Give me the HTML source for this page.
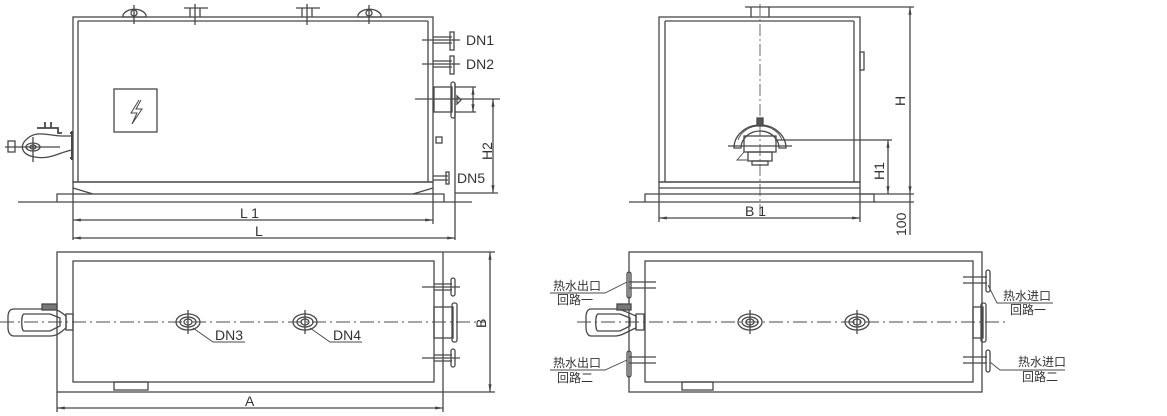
<!DOCTYPE html>
<html><head><meta charset="utf-8"><style>
html,body{margin:0;padding:0;background:#fff;}
svg{display:block;}
text{font-family:"Liberation Sans","Noto Sans CJK SC",sans-serif;fill:#333;}
</style></head><body>
<svg width="1167" height="416" viewBox="0 0 1167 416" xmlns="http://www.w3.org/2000/svg">
<defs>
<marker id="a" viewBox="0 0 10 10" refX="10" refY="5" markerWidth="6" markerHeight="6" orient="auto-start-reverse"><path d="M0,3 L10,5 L0,7 z" fill="#444"/></marker>
</defs>
<g fill="none" stroke="#484848" stroke-width="1.3">
<!-- ===== Side elevation ===== -->
<rect x="73" y="17" width="360" height="165"/>
<line x1="78" y1="21" x2="78" y2="182"/><line x1="428" y1="21" x2="428" y2="182"/>
<line x1="78" y1="21" x2="428" y2="21"/>
<rect x="73" y="182" width="360" height="12"/>
<path d="M73,188 L93,194 M433,188 L413,194"/>
<line x1="18" y1="202" x2="472" y2="202"/>
<path d="M57,202 V194 H73 M433,194 H444 V202"/>
<path d="M123,15 A12,8 0 0 1 146,15 V17 H123 Z"/><circle cx="134" cy="13" r="3"/><line x1="134" y1="5" x2="134" y2="24"/>
<path d="M184,8 H208 M190,8 V17 M200,8 V17"/><line x1="195" y1="4" x2="195" y2="25"/>
<path d="M296,8 H320 M302,8 V17 M312,8 V17"/><line x1="307" y1="4" x2="307" y2="25"/>
<path d="M358,15 A12,8 0 0 1 381,15 V17 H358 Z"/><circle cx="369" cy="13" r="3"/><line x1="369" y1="5" x2="369" y2="24"/>
<path d="M433,37 H452 M433,43 H452"/><rect x="450" y="32" width="4" height="18"/><line x1="422" y1="40" x2="460" y2="40"/>
<path d="M433,61 H452 M433,67 H452"/><rect x="450" y="56" width="4" height="18"/><line x1="422" y1="64" x2="460" y2="64"/>
<rect x="434" y="87" width="18" height="25"/><rect x="451" y="82" width="4" height="36" rx="2"/>
<path d="M457,96 L461,100 L457,104 Z"/>
<line x1="415" y1="99" x2="500" y2="99"/>
<path d="M455,87 H476 M455,112 H476"/><line x1="473" y1="87" x2="473" y2="112" marker-start="url(#a)" marker-end="url(#a)"/>
<rect x="436" y="137" width="6" height="6"/>
<path d="M433,176 H448 M433,180 H448"/><rect x="446" y="172" width="3" height="12"/>
<line x1="493" y1="99" x2="493" y2="193" marker-start="url(#a)" marker-end="url(#a)"/>
<line x1="455" y1="193" x2="498" y2="193"/>
<line x1="455" y1="83" x2="455" y2="240"/>
<line x1="73" y1="194" x2="73" y2="240"/>
<line x1="73" y1="220" x2="433" y2="220" marker-start="url(#a)" marker-end="url(#a)"/>
<line x1="433" y1="194" x2="433" y2="224"/>
<line x1="73" y1="238" x2="455" y2="238" marker-start="url(#a)" marker-end="url(#a)"/>
<rect x="114" y="89" width="43" height="43"/>
<path d="M139,100 L131,113 L137,113 L132,124 L142,109 L136,109 L141,100" stroke-width="1"/>
<path d="M72,131 V160 M70,133 H73 M70,158 H73" stroke-width="2"/>
<path d="M72,136 H62 C50,136 38,130 28,138 C18,146 22,155 35,157 C50,160 60,152 72,150"/>
<ellipse cx="33" cy="147" rx="7" ry="4"/><ellipse cx="33" cy="147" rx="3" ry="2"/>
<line x1="33" y1="137" x2="33" y2="162"/><line x1="5" y1="147" x2="60" y2="147"/>
<rect x="8" y="141" width="7" height="11"/>
<path d="M37,128 H58 V133 H62 M45,128 V122 M51,128 V122" stroke-width="1.8"/>
<!-- ===== End elevation ===== -->
<rect x="659" y="17" width="201" height="165"/>
<line x1="665" y1="21" x2="665" y2="182"/><line x1="854" y1="21" x2="854" y2="182"/><line x1="665" y1="21" x2="854" y2="21"/>
<rect x="659" y="182" width="201" height="12"/><line x1="659" y1="188" x2="860" y2="188"/>
<line x1="629" y1="202" x2="876" y2="202"/>
<path d="M645,202 V194 H659 M860,194 H874 V202"/>
<rect x="860" y="52" width="4" height="18"/>
<path d="M745,7 H775 M751,7 V17 M769,7 V17"/>
<line x1="760" y1="4" x2="760" y2="215" stroke-dasharray="12,3,2,3" stroke-width="0.8"/>
<line x1="775" y1="7" x2="914" y2="7"/>
<path d="M734,148 A26,23 0 0 1 786,148 L779,148 A19,17 0 0 0 741,148 Z"/>
<path d="M738,140 A23,20 0 0 1 782,140" stroke-width="0.8"/>
<rect x="744" y="136" width="32" height="16"/><rect x="748" y="152" width="24" height="9"/><rect x="752" y="161" width="16" height="4"/>
<path d="M744,152 L737,160 H748" stroke-width="0.9"/>
<rect x="757" y="118" width="6" height="8" fill="#555"/>
<line x1="728" y1="146" x2="792" y2="146"/>
<line x1="775" y1="140" x2="892" y2="140"/>
<line x1="888" y1="140" x2="888" y2="194" marker-start="url(#a)" marker-end="url(#a)"/>
<line x1="860" y1="194" x2="914" y2="194"/>
<line x1="910" y1="7" x2="910" y2="194" marker-start="url(#a)" marker-end="url(#a)"/>
<line x1="910" y1="194" x2="910" y2="235"/>
<line x1="874" y1="202" x2="914" y2="202"/>
<line x1="659" y1="194" x2="659" y2="222"/><line x1="860" y1="194" x2="860" y2="222"/>
<line x1="659" y1="218" x2="860" y2="218" marker-start="url(#a)" marker-end="url(#a)"/>
<!-- ===== Plan left ===== -->
<rect x="57" y="252" width="386" height="140"/>
<rect x="73" y="261" width="361" height="121"/>
<rect x="114" y="382" width="34" height="8"/>
<line x1="0" y1="322" x2="485" y2="322" stroke-dasharray="14,4,2,4" stroke-width="0.9"/>
<g><ellipse cx="188" cy="322" rx="12" ry="8"/><ellipse cx="188" cy="322" rx="8" ry="5"/><ellipse cx="188" cy="322" rx="4" ry="3"/><line x1="188" y1="310" x2="188" y2="334"/></g>
<g><ellipse cx="305" cy="322" rx="12" ry="8"/><ellipse cx="305" cy="322" rx="8" ry="5"/><ellipse cx="305" cy="322" rx="4" ry="3"/><line x1="305" y1="310" x2="305" y2="334"/></g>
<path d="M193,328 L213,342 H245 M310,328 L330,342 H362" stroke-width="0.9"/>
<path d="M434,284 H452 M434,290 H452"/><rect x="451" y="278" width="4" height="18" rx="2"/><line x1="422" y1="287" x2="460" y2="287"/>
<path d="M434,355 H452 M434,361 H452"/><rect x="451" y="349" width="4" height="18" rx="2"/><line x1="422" y1="358" x2="460" y2="358"/>
<rect x="434" y="307" width="19" height="31"/><rect x="452" y="303" width="5" height="39" rx="2"/>
<line x1="443" y1="252" x2="495" y2="252"/><line x1="443" y1="392" x2="495" y2="392"/>
<line x1="490" y1="252" x2="490" y2="392" marker-start="url(#a)" marker-end="url(#a)"/>
<line x1="57" y1="392" x2="57" y2="412"/><line x1="443" y1="392" x2="443" y2="412"/>
<line x1="57" y1="408" x2="443" y2="408" marker-start="url(#a)" marker-end="url(#a)"/>
<path d="M14,309 H50 C58,309 62,313 66,316 V328 C62,331 58,336 50,336 H14 C10,336 8,332 8,328 V317 C8,312 10,309 14,309 Z"/>
<path d="M24,314 H50 L60,318 V326 L50,331 H24 C21,331 21,314 24,314 Z"/>
<rect x="66" y="314" width="7" height="16"/><rect x="42" y="304" width="15" height="6" fill="#777"/>
<!-- ===== Plan right ===== -->
<rect x="629" y="252" width="353" height="140"/>
<rect x="645" y="261" width="328" height="121"/>
<rect x="682" y="382" width="31" height="8"/>
<line x1="577" y1="322" x2="1005" y2="322" stroke-dasharray="14,4,2,4" stroke-width="0.9"/>
<g><ellipse cx="750" cy="322" rx="12" ry="8"/><ellipse cx="750" cy="322" rx="8" ry="5"/><ellipse cx="750" cy="322" rx="4" ry="3"/><line x1="750" y1="310" x2="750" y2="334"/></g>
<g><ellipse cx="857" cy="322" rx="12" ry="8"/><ellipse cx="857" cy="322" rx="8" ry="5"/><ellipse cx="857" cy="322" rx="4" ry="3"/><line x1="857" y1="310" x2="857" y2="334"/></g>
<path d="M629,282 H656 M629,288 H656"/><rect x="627" y="272" width="4" height="26" rx="2"/>
<path d="M629,357 H656 M629,363 H656"/><rect x="627" y="351" width="4" height="26" rx="2"/>
<path d="M963,277 H987 M963,283 H987"/><rect x="986" y="270" width="4" height="22" rx="2"/>
<path d="M963,357 H987 M963,363 H987"/><rect x="986" y="350" width="4" height="22" rx="2"/>
<rect x="973" y="307" width="10" height="31"/><rect x="981" y="303" width="5" height="39" rx="2"/>
<path d="M550,293 H605 L627,282 M550,370 H605 L627,360 M1053,303 H997 L988,285 M1065,370 H1000 L990,362" stroke-width="0.9"/>
<path d="M591,309 H616 C622,309 628,313 636,316 V328 C628,331 622,336 616,336 H591 C588,336 586,332 586,328 V317 C586,312 588,309 591,309 Z"/>
<path d="M598,314 H620 L630,318 V326 L620,331 H598 C595,331 595,314 598,314 Z"/>
<rect x="636" y="314" width="8" height="16"/><rect x="617" y="304" width="14" height="6" fill="#777"/>
</g>
<g font-size="14">
<text x="466" y="45">DN1</text>
<text x="466" y="69">DN2</text>
<text x="457" y="183">DN5</text>
<text x="240" y="218">L 1</text>
<text x="255" y="236">L</text>
<text x="215" y="340">DN3</text>
<text x="333" y="340">DN4</text>
<text x="245" y="406">A</text>
<text x="745" y="216">B 1</text>
<text transform="translate(492,160) rotate(-90)">H2</text>
<text transform="translate(905,106) rotate(-90)">H</text>
<text transform="translate(884,180) rotate(-90)">H1</text>
<text transform="translate(906,236) rotate(-90)">100</text>
<text transform="translate(486,328) rotate(-90)">B</text>
</g>
<g font-size="12">
<text x="553" y="290">热水出口</text>
<text x="557" y="304">回路一</text>
<text x="553" y="367">热水出口</text>
<text x="557" y="382">回路二</text>
<text x="1003" y="300">热水进口</text>
<text x="1010" y="314">回路一</text>
<text x="1018" y="366">热水进口</text>
<text x="1022" y="381">回路二</text>
</g>
</svg>
</body></html>
